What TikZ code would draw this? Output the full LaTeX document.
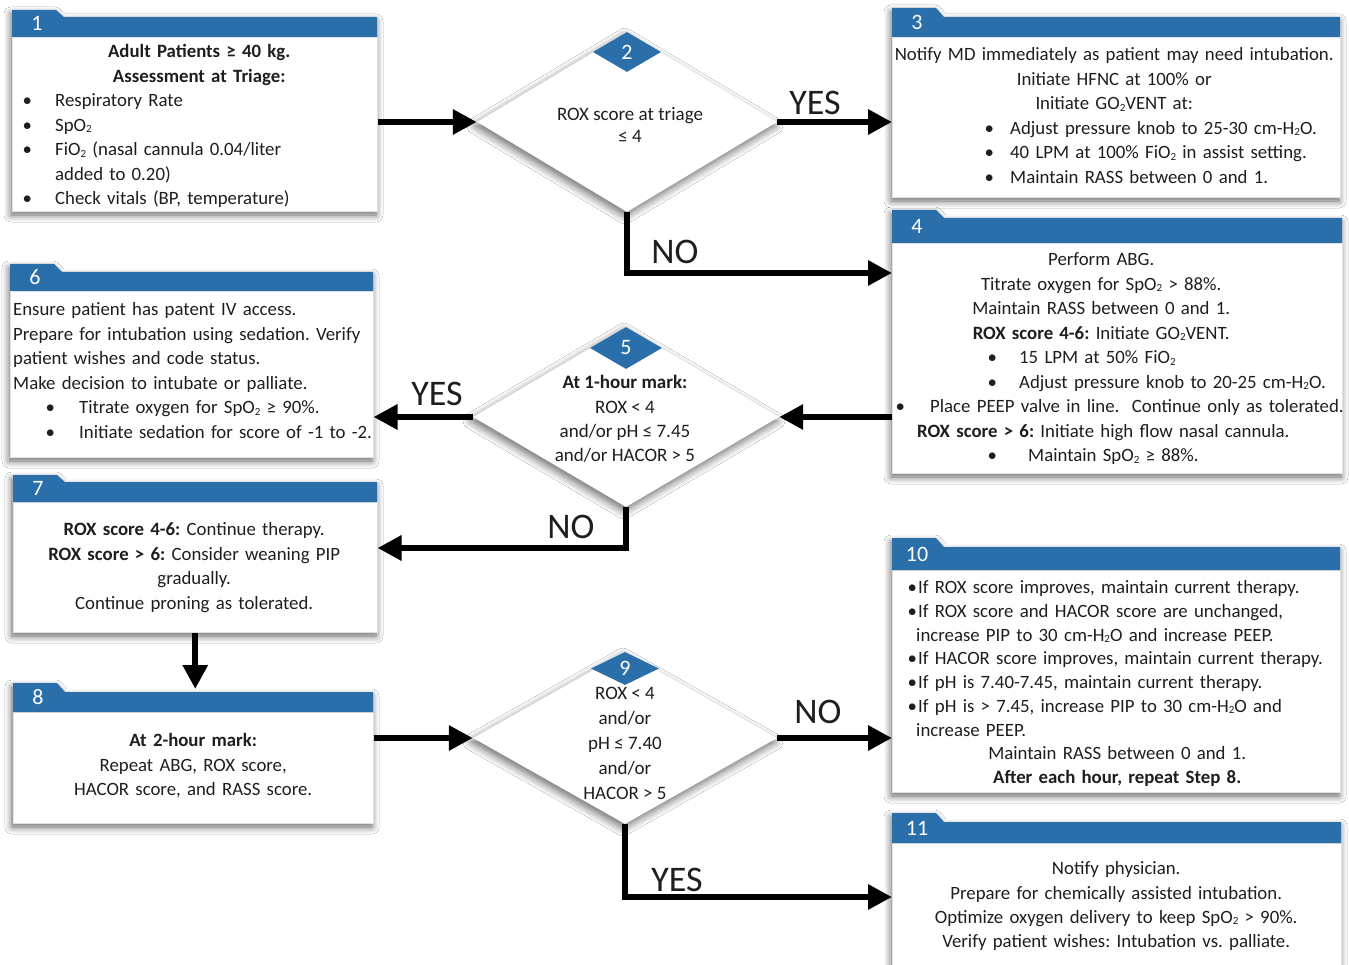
\documentclass[tikz,border=0pt]{standalone}
\usepackage{fontspec}
\setmainfont{Carlito}
\usetikzlibrary{shapes.geometric,arrows.meta,shadows.blur}
\definecolor{hdr}{RGB}{42,110,170}
\definecolor{ink}{RGB}{30,30,30}
\setlength{\parindent}{0pt}
\frenchspacing
\newcommand\cat[2]{\makebox[\hsize][l]{\hspace*{#1pt}\makebox[0pt][c]{#2}}}
\newcommand\lat[2]{\makebox[\hsize][l]{\hspace*{#1pt}#2}}
\newcommand\bl[3]{\makebox[\hsize][l]{\hspace*{#1pt}\makebox[0pt][c]{\textbullet}\hspace*{\dimexpr#2pt-#1pt\relax}#3}}
\newcommand\two{{\raisebox{-1.5pt}{\fontsize{11}{12}\selectfont 2}}}
% #1 name, #2 x0, #3 x1, #4 tab top, #5 band top, #6 band bottom, #7 body bottom, #8 number
\newcommand\card[8]{%
  \path[cardshadow] (#2,#6) -- (#2,#4) -- ({#2+44},#4) -- ({#2+52},#5) -- (#3,#5) -- (#3,#7) -- (#2,#7) -- cycle;
  \node[cardbody, anchor=north west, minimum width={#3-#2}, minimum height={#7-#6}] (#1) at (#2,#6) {};
  \fill[hdr] (#2,#6) -- (#2,#4) -- ({#2+44},#4) -- ({#2+52},#5) -- (#3,#5) -- (#3,#6) -- cycle;
  \node[num] (#1n) at ({#2+25},{(#4+#6)/2}) {#8};
}
\begin{document}
\begin{tikzpicture}[x=1pt,y=-1pt,
  cardshadow/.style={fill=white, blur shadow={shadow xshift=-1pt, shadow yshift=-4pt, shadow blur radius=7pt, shadow blur steps=8, shadow opacity=60}},
  cardbody/.style={draw=black!12, line width=0.5pt, fill=white, inner sep=0pt},
  num/.style={text=white, font=\fontsize{22}{26}\selectfont, inner sep=0pt},
  dia/.style={diamond, fill=white, inner sep=0pt, blur shadow={shadow xshift=-2pt, shadow yshift=-4pt, shadow blur radius=8pt, shadow blur steps=8, shadow opacity=60}},
  smalld/.style={diamond, fill=hdr, inner sep=0pt, minimum width=68pt, minimum height=40pt, text=white, font=\fontsize{22}{26}\selectfont},
  txt/.style={inner sep=0pt, align=left, text=ink, anchor=north west, font=\fontsize{18.8}{24.5}\selectfont},
  dtxt/.style={inner sep=0pt, align=center, text=ink, anchor=north},
  lbl/.style={inner sep=0pt, text=ink, font=\fontsize{36}{40}\selectfont},
  arr/.style={line width=6pt, draw=black, -{Triangle[length=24pt,width=24pt]}}
]
\useasboundingbox (0,0) rectangle (1349,965);
\clip (0,0) rectangle (1349,965);
\fill[white] (0,0) rectangle (1349,965);

% cards
\card{b1}{12}{377}{10}{17}{37}{211}{1}
\card{b3}{892}{1340}{8}{17}{37}{197}{3}
\card{b4}{892}{1342}{210}{218}{243}{473}{4}
\card{b6}{10}{373}{264}{272}{291}{457}{6}
\card{b7}{13}{377}{475}{482}{502}{632}{7}
\card{b8}{13}{373}{683}{692}{712}{823}{8}
\card{b10}{892}{1340}{538}{547}{570}{792}{10}
\card{b11}{892}{1341}{813}{822}{843}{985}{11}

% diamonds
\node[dia, minimum width=300pt, minimum height=180pt] (d2) at (627,122) {};
\node[smalld, anchor=north] (d2n) at (d2.north) {2};
\node[dia, minimum width=306pt, minimum height=180pt] (d5) at (626,417) {};
\node[smalld, anchor=north, minimum width=72pt, minimum height=42pt] (d5n) at (d5.north) {5};
\node[dia, minimum width=304pt, minimum height=172pt] (d9) at (625,738) {};
\node[smalld, anchor=north, minimum height=33pt] (d9n) at (d9.north) {9};

% texts
\node[txt, text width=365pt] (t1) at (12,40.35) {%
\cat{187}{\strut\textbf{Adult Patients ≥ 40 kg.}}\\
\cat{187}{\textbf{Assessment at Triage:}}\\
\bl{15}{43}{Respiratory Rate}\\
\bl{15}{43}{SpO\two}\\
\bl{15}{43}{FiO\two{} (nasal cannula 0.04/liter}\\
\lat{43}{added to 0.20)}\\
\bl{15}{43}{Check vitals (BP, temperature)}};

\node[txt, text width=448pt] (t3) at (892,43.35) {%
\cat{222}{\strut Notify MD immediately as patient may need intubation.}\\
\cat{222}{Initiate HFNC at 100\% or}\\
\cat{222}{Initiate GO\two VENT at:}\\
\bl{97}{118}{Adjust pressure knob to 25-30 cm-H\two O.}\\
\bl{97}{118}{40 LPM at 100\% FiO\two{} in assist setting.}\\
\bl{97}{118}{Maintain RASS between 0 and 1.}};

\node[txt, text width=450pt] (t4) at (892,248.35) {%
\cat{209}{\strut Perform ABG.}\\
\cat{209}{Titrate oxygen for SpO\two{} > 88\%.}\\
\cat{209}{Maintain RASS between 0 and 1.}\\
\cat{209}{\textbf{ROX score 4-6:} Initiate GO\two VENT.}\\
\bl{100}{127}{15 LPM at 50\% FiO\two}\\
\bl{100}{127}{Adjust pressure knob to 20-25 cm-H\two O.}\\
\bl{8}{38}{Place PEEP valve in line.\ \ Continue only as tolerated.}\\
\lat{25}{\textbf{ROX score > 6:} Initiate high flow nasal cannula.}\\
\bl{100}{136}{Maintain SpO\two{} ≥ 88\%.}};

\node[txt, text width=363pt] (t6) at (10,298.35) {%
\lat{3}{\strut Ensure patient has patent IV access.}\\
\lat{3}{Prepare for intubation using sedation. Verify}\\
\lat{3}{patient wishes and code status.}\\
\lat{3}{Make decision to intubate or palliate.}\\
\bl{40}{69}{Titrate oxygen for SpO\two{} ≥ 90\%.}\\
\bl{40}{69}{Initiate sedation for score of -1 to -2.}};

\node[txt, text width=364pt] (t7) at (13,518.35) {%
\cat{181}{\strut\textbf{ROX score 4-6:} Continue therapy.}\\
\cat{181}{\textbf{ROX score > 6:} Consider weaning PIP}\\
\cat{181}{gradually.}\\
\cat{181}{Continue proning as tolerated.}};

\node[txt, text width=360pt] (t8) at (13,729.35) {%
\cat{180}{\strut\textbf{At 2-hour mark:}}\\
\cat{180}{Repeat ABG, ROX score,}\\
\cat{180}{HACOR score, and RASS score.}};

\node[txt, text width=448pt, font=\fontsize{18.8}{23.75}\selectfont] (t10) at (892,576.9) {%
\bl{20}{26}{\strut If ROX score improves, maintain current therapy.}\\
\bl{20}{26}{If ROX score and HACOR score are unchanged,}\\
\lat{24}{increase PIP to 30 cm-H\two O and increase PEEP.}\\
\bl{20}{26}{If HACOR score improves, maintain current therapy.}\\
\bl{20}{26}{If pH is 7.40-7.45, maintain current therapy.}\\
\bl{20}{26}{If pH is > 7.45, increase PIP to 30 cm-H\two O and}\\
\lat{24}{increase PEEP.}\\
\cat{225}{Maintain RASS between 0 and 1.}\\
\cat{225}{\textbf{After each hour, repeat Step 8.}}};

\node[txt, text width=449pt, font=\fontsize{18.8}{24.3}\selectfont] (t11) at (892,857.5) {%
\cat{224}{\strut Notify physician.}\\
\cat{224}{Prepare for chemically assisted intubation.}\\
\cat{224}{Optimize oxygen delivery to keep SpO\two{} > 90\%.}\\
\cat{224}{Verify patient wishes: Intubation vs. palliate.}};

\node[dtxt, font=\fontsize{19}{22}\selectfont] (t2) at (630,105.1) {\strut ROX score at triage\\ ≤ 4};
\node[dtxt, font=\fontsize{19}{24.3}\selectfont] (t5) at (625,371.5) {\strut\textbf{At 1-hour mark:}\\ ROX < 4\\ and/or pH ≤ 7.45\\ and/or HACOR > 5};
\node[dtxt, font=\fontsize{19}{25}\selectfont] (t9) at (625,682) {\strut ROX < 4\\ and/or\\ pH ≤ 7.40\\ and/or\\ HACOR > 5};

% helper coordinates for bends
\coordinate (c24) at (0,273);
\coordinate (c57) at (0,548);
\coordinate (c911) at (0,897);
\coordinate (c78) at (0,689);

% connectors
\draw[arr] (b1.east |- d2.west) -- (d2.west);
\draw[arr] (d2.east) -- (d2.east -| b3.west);
\draw[arr] (d2.south) |- (b4.west |- c24);
\draw[arr] (b4.west |- d5.east) -- (d5.east);
\draw[arr] (d5.west) -- (d5.west -| b6.east);
\draw[arr] (d5.south) |- (b7.east |- c57);
\draw[arr] (b7.south) -- (b7.south |- c78);
\draw[arr] (b8.east |- d9.west) -- (d9.west);
\draw[arr] (d9.east) -- (d9.east -| b10.west);
\draw[arr] (d9.south) |- (b11.west |- c911);

% labels
\node[lbl] (l1) at (815,103) {YES};
\node[lbl] (l2) at (675,252) {NO};
\node[lbl] (l3) at (437,394) {YES};
\node[lbl] (l4) at (571,527) {NO};
\node[lbl] (l5) at (818,712) {NO};
\node[lbl] (l6) at (677,880) {YES};
\end{tikzpicture}
\end{document}
